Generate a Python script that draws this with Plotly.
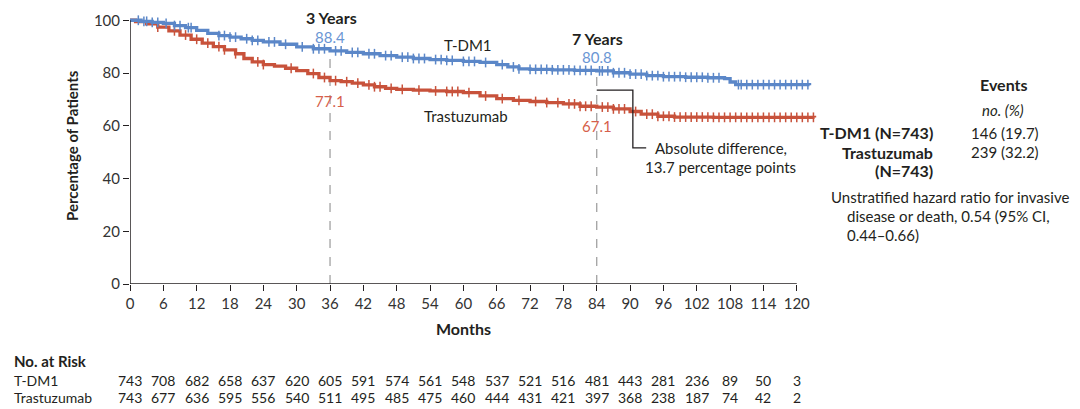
import numpy as np
import plotly.graph_objects as go

# ---------------- data ----------------
tdm1_t = [0, 2, 4, 6, 8, 10, 12, 14, 16, 18, 20, 22, 24, 27, 30, 33, 36, 39, 42, 45, 48, 51, 54, 57,
          60, 63, 66, 68, 70, 72, 76, 80, 84, 87, 90, 93, 96, 100, 104, 107, 108, 109, 122.3]
tdm1_s = [100, 99.6, 99.2, 98.8, 98.0, 97.2, 96.2, 95.0, 94.2, 93.6, 93.0, 92.4, 91.8, 90.9, 89.9, 89.2,
          88.4, 87.8, 87.3, 86.6, 86.0, 85.5, 85.1, 84.8, 84.4, 84.0, 83.2, 82.3, 81.6, 81.4, 81.2, 81.0,
          80.8, 80.1, 79.6, 79.0, 78.6, 78.4, 78.2, 77.9, 76.6, 75.6, 75.4]
tras_t = [0, 1, 3, 5, 7, 9, 11, 13, 15, 17, 19, 20.5, 22, 24, 26, 28, 30, 32, 34, 36, 38, 40, 42, 44,
          46, 48, 51, 54, 57, 60, 63, 66, 69, 72, 75, 78, 81, 84, 87, 90, 92, 95, 98, 105, 123.2]
tras_s = [100, 99.5, 98.6, 97.4, 96.0, 94.4, 92.8, 91.3, 90.0, 88.8, 87.3, 85.5, 84.2, 83.2, 82.6, 81.8,
          80.9, 79.8, 78.3, 77.1, 76.7, 76.2, 75.5, 74.8, 74.2, 73.8, 73.5, 73.2, 73.0, 72.6, 71.3, 70.3,
          69.6, 69.2, 68.8, 68.3, 67.4, 67.1, 66.4, 65.4, 64.4, 63.6, 63.3, 63.2, 63.1]

tdm1_cens = [1.5, 2.5, 3, 4, 5, 6.5, 8, 9, 10.5, 11, 16, 17, 18, 19, 21, 22, 23, 25, 26, 28, 31, 33,
             34, 35, 37, 38, 40, 41, 43, 44, 46, 47, 49, 50, 51, 52, 53, 55, 56, 57, 58, 60, 61, 62,
             64, 67, 69, 70, 72, 73, 74, 75, 76, 77, 78, 79, 80, 81, 82, 83, 84.5, 85, 86, 87, 88,
             89, 90, 91, 92, 93, 94, 95, 96, 97, 98, 99, 100, 101, 102, 103, 104, 105, 106, 109.5,
             110, 111, 112, 113, 114, 115, 116, 117, 118, 119, 120, 121, 122]
tras_cens = [5, 8, 10, 12, 14, 16, 17, 19, 23, 24, 29, 33, 35, 37, 39, 41, 43, 44, 45, 47, 49, 52,
             55, 57, 58, 59, 61, 64, 67, 70, 73, 75, 77, 79, 80, 81, 82, 83, 85, 86, 87, 88, 89,
             91, 93, 94, 95, 96, 97, 98, 99, 100, 101, 102, 103, 104, 105, 106, 107, 108, 109,
             110, 111, 112, 113, 114, 115, 116, 117, 118, 119, 120, 121, 122, 123]

months_ticks = list(range(0, 121, 6))
risk_tdm1 = [743, 708, 682, 658, 637, 620, 605, 591, 574, 561, 548, 537, 521, 516, 481, 443, 281, 236, 89, 50, 3]
risk_tras = [743, 677, 636, 595, 556, 540, 511, 495, 485, 475, 460, 444, 431, 421, 397, 368, 238, 187, 74, 42, 2]

yr3_vals = (88.4, 77.1)
yr7_vals = (80.8, 67.1)

# ---------------- style ----------------
BLUE = "#5B87C8"
RED = "#C8523B"
BLUE_TXT = "#6A96D4"
RED_TXT = "#D65F4B"
TXT = "#231F20"
FONT = "Lato"

# page body has an 8px margin; compensate so positions match the target canvas
OFF = 8
W, H = 1080 - OFF, 409 - OFF
L, T = 130 - OFF, 15 - OFF
PW = 819 - 130
PH = 284 - 15
R = W - L - PW
B = H - T - PH


def px(x):
    return (x - OFF - L) / PW


def py(y):
    return (T + PH - (y - OFF)) / PH


def step_at(ts, ss, q):
    ts = np.asarray(ts)
    ss = np.asarray(ss)
    idx = np.searchsorted(ts, q, side="right") - 1
    return ss[np.clip(idx, 0, len(ss) - 1)]


fig = go.Figure()
for t, s, c, cens in [(tras_t, tras_s, RED, tras_cens), (tdm1_t, tdm1_s, BLUE, tdm1_cens)]:
    fig.add_trace(go.Scatter(x=t, y=s, mode="lines", line=dict(color=c, width=3.3, shape="hv"),
                             showlegend=False, hoverinfo="skip"))
    fig.add_trace(go.Scatter(x=cens, y=step_at(t, s, cens), mode="markers",
                             marker=dict(symbol="line-ns-open", size=7, color=c,
                                         line=dict(color=c, width=1.5)),
                             showlegend=False, cliponaxis=False, hoverinfo="skip"))

shapes = []
shapes.append(dict(type="line", xref="x", yref="y", x0=36, x1=36, y0=0, y1=88.0,
                   line=dict(color="#9A9A9A", width=1.2, dash="dash"), layer="below"))
shapes.append(dict(type="line", xref="x", yref="y", x0=84, x1=84, y0=0, y1=79.2,
                   line=dict(color="#9A9A9A", width=1.2, dash="dash"), layer="below"))
shapes.append(dict(type="line", xref="x", yref="y", x0=0, x1=0, y0=0, y1=100,
                   line=dict(color=TXT, width=1.5)))
shapes.append(dict(type="line", xref="x", yref="y", x0=0, x1=120, y0=0, y1=0,
                   line=dict(color=TXT, width=1.5)))
shapes.append(dict(type="path", xref="x", yref="y",
                   path="M 84,73.5 L 90.5,73.5 L 90.5,51.6 L 92.9,51.6",
                   line=dict(color=TXT, width=1.3)))

ann = []


def add(text, x, y, xref="paper", yref="paper", size=15, color=TXT, xanchor="center",
        yanchor="middle", bold=False, italic=False, angle=0):
    if bold:
        text = "<b>" + text + "</b>"
    if italic:
        text = "<i>" + text + "</i>"
    ann.append(dict(text=text, x=x, y=y, xref=xref, yref=yref, showarrow=False,
                    font=dict(family=FONT, size=size, color=color), xanchor=xanchor,
                    yanchor=yanchor, textangle=angle))


add("3 Years", px(331), py(17), bold=True, size=16)
add(f"{yr3_vals[0]}", px(330), py(37), color=BLUE_TXT)
add(f"{yr3_vals[1]}", px(330), py(101), color=RED_TXT)
add("7 Years", px(597), py(38), bold=True, size=16)
add(f"{yr7_vals[0]}", px(597), py(57), color=BLUE_TXT)
add(f"{yr7_vals[1]}", px(597), py(126), color=RED_TXT)
add("T-DM1", px(468), py(45))
add("Trastuzumab", px(466), py(116))
add("Absolute difference,", px(653), py(148), xanchor="left")
add("13.7 percentage points", px(643), py(167), xanchor="left")

add("Percentage of Patients", px(72), py(146), bold=True, size=15, angle=-90)
add("Months", px(463), py(328), bold=True, size=16)

add("Events", px(1004), py(85), bold=True, size=16)
add("no. (%)", px(1003), py(110), italic=True)
add("T-DM1 (N=743)", px(935), py(133), xanchor="right", bold=True, size=16)
add("Trastuzumab", px(935), py(152), xanchor="right", bold=True, size=16)
add("(N=743)", px(935), py(170), xanchor="right", bold=True, size=16)
add("146 (19.7)", px(969), py(133), xanchor="left")
add("239 (32.2)", px(969), py(152), xanchor="left")
add("Unstratified hazard ratio for invasive", px(829), py(197), xanchor="left")
add("disease or death, 0.54 (95% CI,", px(845), py(216), xanchor="left")
add("0.44\u20130.66)", px(845), py(235), xanchor="left")

add("No. at Risk", px(12), py(361), xanchor="left", bold=True, size=15)
add("T-DM1", px(12), py(380), xanchor="left", size=14)
add("Trastuzumab", px(12), py(397), xanchor="left", size=14)
for m, a, b in zip(months_ticks, risk_tdm1, risk_tras):
    add(str(a), m, py(380), xref="x", size=14)
    add(str(b), m, py(397), xref="x", size=14)

fig.update_layout(
    width=W, height=H,
    margin=dict(l=L, r=R, t=T, b=B, autoexpand=False),
    paper_bgcolor="white", plot_bgcolor="white",
    font=dict(family=FONT, size=14, color=TXT),
    shapes=shapes, annotations=ann,
    xaxis=dict(range=[0, 124], tickvals=months_ticks, ticks="outside", ticklen=6, tickwidth=1.3,
               tickcolor=TXT, showline=False, showgrid=False, zeroline=False,
               tickfont=dict(family=FONT, size=15, color="#333")),
    yaxis=dict(range=[0, 102], tickvals=[0, 20, 40, 60, 80, 100], ticks="outside", ticklen=6,
               tickwidth=1.3, tickcolor=TXT, showline=False, showgrid=False, zeroline=False,
               tickfont=dict(family=FONT, size=15, color="#333")),
)

fig.write_html("out.html")
